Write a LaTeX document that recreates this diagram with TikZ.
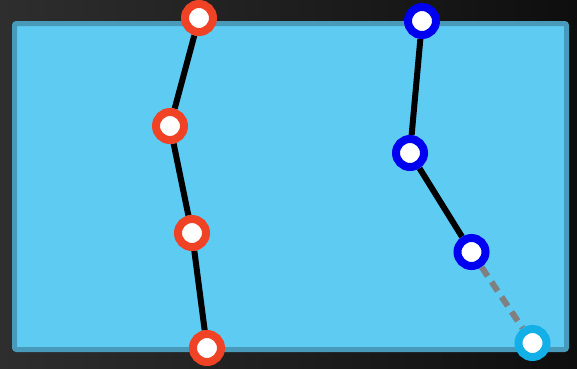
\documentclass[tikz,border=0pt]{standalone}
\usepackage{tikz}
\usetikzlibrary{arrows.meta,calc,positioning}
\definecolor{bgleft}{RGB}{46,46,46}
\definecolor{bgright}{RGB}{14,14,14}
\definecolor{panelfill}{RGB}{94,203,243}
\definecolor{paneledge}{RGB}{72,154,186}
\definecolor{ringred}{RGB}{240,66,36}
\definecolor{ringblue}{RGB}{0,0,240}
\definecolor{ringsky}{RGB}{18,176,230}
\definecolor{linkgray}{RGB}{128,128,128}
\pgfdeclarelayer{back}
\pgfdeclarelayer{links}
\pgfsetlayers{back,links,main}

\tikzset{
  joint/.style={circle,draw=#1,line width=8pt,fill=white,minimum size=28pt,inner sep=0pt},
  link/.style={line width=6pt,black},
  ghostlink/.style={line width=6pt,linkgray,dash pattern=on 11pt off 7pt}
}

\begin{document}
\begin{tikzpicture}[x=1pt,y=-1pt]
\useasboundingbox (0,0) rectangle (577,368);
\begin{pgfonlayer}{back}
\shade[left color=bgleft,right color=bgright] (0,0) rectangle (577,368);
\draw[paneledge,fill=panelfill,line width=5pt,rounded corners=2pt] (14.5,23.5) rectangle (566.5,349.5);
\end{pgfonlayer}
% left chain
\node[joint=ringred] (r1) at (199,18) {};
\node[joint=ringred] (r2) at (170,126) {};
\node[joint=ringred] (r3) at (192,233) {};
\node[joint=ringred] (r4) at (207,348) {};
% right chain
\node[joint=ringblue] (b1) at (422,21) {};
\node[joint=ringblue] (b2) at (410,153) {};
\node[joint=ringblue] (b3) at (471.5,252) {};
\node[joint=ringsky] (s1) at (532.5,343) {};
\begin{pgfonlayer}{links}
\foreach \a/\b in {r1/r2,r2/r3,r3/r4,b1/b2,b2/b3}{
  \draw[link] (\a) -- (\b);
}
\draw[ghostlink] (b3) -- (s1);
\end{pgfonlayer}
\end{tikzpicture}
\end{document}
